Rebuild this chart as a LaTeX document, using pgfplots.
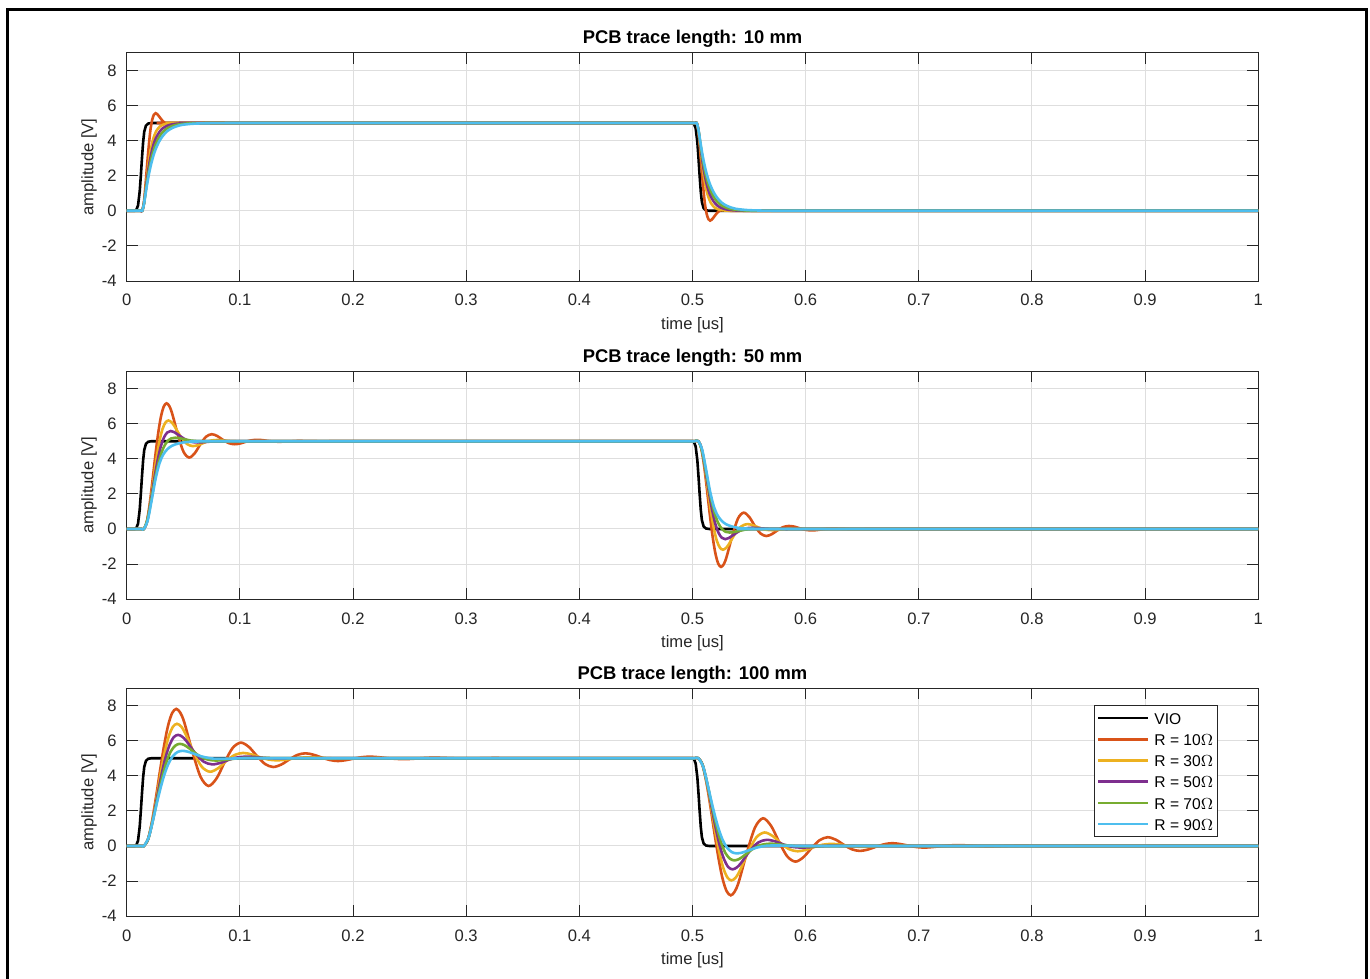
\documentclass[border=0pt]{standalone}
\usepackage{fontspec}
\setmainfont{Liberation Sans}
\usepackage{pgfplots}
\usepackage{pgfplotstable}
\pgfplotsset{compat=1.18}

\definecolor{mlorange}{rgb}{0.850,0.325,0.098}
\definecolor{mlyellow}{rgb}{0.929,0.694,0.125}
\definecolor{mlpurple}{rgb}{0.494,0.184,0.556}
\definecolor{mlgreen}{rgb}{0.466,0.674,0.188}
\definecolor{mlblue}{rgb}{0.301,0.745,0.933}
\definecolor{axgray}{rgb}{0.15,0.15,0.15}

% input voltage, same in all three panels
\pgfplotstableread{
t v
0 0
0.0070 0
0.0085 0.05
0.0100 0.30
0.0115 1.10
0.0125 2.00
0.0135 3.00
0.0145 3.90
0.0155 4.50
0.0170 4.85
0.0190 4.97
0.0220 5.00
0.5000 5.00
0.5013 4.95
0.5028 4.70
0.5043 3.90
0.5053 3.00
0.5063 2.00
0.5073 1.10
0.5083 0.50
0.5098 0.15
0.5118 0.03
0.5148 0.00
1.0000 0.00
}\vio

\pgfplotsset{
  pcb/.style={
    scale only axis, width=565.8pt, height=114.1pt,
    xmin=0, xmax=1, ymin=-4, ymax=9,
    xtick={0,0.1,0.2,0.3,0.4,0.5,0.6,0.7,0.8,0.9,1},
    xticklabels={0,0.1,0.2,0.3,0.4,0.5,0.6,0.7,0.8,0.9,1},
    ytick={-4,-2,0,2,4,6,8},
    grid=major, major grid style={line width=0.5pt, color=black!13},
    tick align=inside, major tick length=5.6pt,
    axis line style={axgray, line width=0.5pt},
    every tick/.style={axgray, line width=0.5pt},
    /pgf/number format/assume math mode=true,
    tick label style={font=\fontsize{8.3}{10}\selectfont, text=axgray},
    xticklabel style={inner sep=0pt, anchor=north, yshift=-6.5pt},
    yticklabel style={inner sep=0pt, anchor=east, xshift=-4.85pt},
    xlabel={time [us]}, ylabel={amplitude [V]},
    every axis x label/.style={at={([yshift=-24pt]axis description cs:0.5,0)}, anchor=base, inner sep=0pt,
      font=\fontsize{8.3}{10}\selectfont, text=axgray},
    every axis y label/.style={at={([xshift=-18.85pt]axis description cs:0,0.5)}, rotate=90, anchor=center, inner sep=0pt,
      font=\fontsize{8.3}{10}\selectfont, text=axgray},
    every axis title/.style={at={([yshift=4.5pt]axis description cs:0.5,1)}, anchor=base, inner sep=0pt,
      font=\bfseries\fontsize{9.2}{11}\selectfont},
    every axis plot/.append style={line width=1.3pt},
    legend image code/.code={\draw[#1] (0pt,0pt) -- (25pt,0pt);},
  }
}

\begin{document}
\begin{tikzpicture}
\useasboundingbox (0,0) rectangle (685pt,-489.5pt);
\draw[line width=1.5pt] (3.5pt,-490pt) -- (3.5pt,-5pt) -- (683pt,-5pt) -- (683pt,-490pt);

% ---------------- 10 mm ----------------
\begin{axis}[pcb, at={(63.35pt,-140.5pt)}, anchor=south west, title={PCB trace length: 10 mm}]
\addplot[black] table {\vio};
\addplot[mlorange, smooth] coordinates {
(0,0) (0.0107,0) (0.0122,0) (0.0137,0) (0.0152,0.47) (0.0167,1.53) (0.0182,2.74) (0.0197,3.83)
(0.0211,4.67) (0.0226,5.20) (0.0241,5.48) (0.0256,5.56) (0.0271,5.50) (0.0286,5.38) (0.0316,5.13)
(0.0345,4.98) (0.0375,4.94) (0.0405,4.96) (0.0435,4.99) (0.05,5) (0.40,5) (0.48,5) (0.4977,5) (0.5007,5) (0.5022,5)
(0.5037,5) (0.5052,4.53) (0.5067,3.47) (0.5082,2.26) (0.5097,1.17) (0.5111,0.33) (0.5126,-0.20)
(0.5141,-0.48) (0.5156,-0.56) (0.5171,-0.50) (0.5186,-0.38) (0.5216,-0.13) (0.5245,0.02) (0.5275,0.06)
(0.5305,0.04) (0.5335,0.01) (0.54,0) (0.60,0) (1,0)};
\addplot[mlyellow, smooth] coordinates {
(0,0) (0.0107,0) (0.0122,0) (0.0137,0) (0.0153,0.45) (0.0168,1.32) (0.0184,2.21) (0.0199,2.97)
(0.0215,3.56) (0.0230,4.00) (0.0246,4.32) (0.0261,4.54) (0.0292,4.80) (0.0323,4.91) (0.0354,4.96)
(0.0385,4.985) (0.0448,5.00) (0.06,5) (0.40,5) (0.48,5) (0.4977,5) (0.5007,5) (0.5022,5)
(0.5037,5) (0.5053,4.55) (0.5068,3.68) (0.5084,2.79) (0.5099,2.03) (0.5115,1.44) (0.5130,1.00)
(0.5146,0.68) (0.5161,0.46) (0.5192,0.20) (0.5223,0.09) (0.5254,0.04) (0.5285,0.015) (0.5348,0)
(0.55,0) (0.60,0) (1,0)};
\addplot[mlpurple, smooth] coordinates {
(0,0) (0.0107,0) (0.0122,0) (0.0137,0) (0.0152,0.40) (0.0167,1.15) (0.0182,1.91) (0.0197,2.57)
(0.0217,3.25) (0.0237,3.76) (0.0257,4.12) (0.0287,4.47) (0.0317,4.69) (0.0357,4.84) (0.0407,4.93)
(0.0477,4.98) (0.0587,5.00) (0.07,5) (0.40,5) (0.48,5) (0.4977,5) (0.5007,5) (0.5022,5)
(0.5037,5) (0.5052,4.60) (0.5067,3.85) (0.5082,3.09) (0.5097,2.43) (0.5117,1.75) (0.5137,1.24)
(0.5157,0.88) (0.5187,0.53) (0.5217,0.31) (0.5257,0.16) (0.5307,0.07) (0.5377,0.02) (0.5487,0)
(0.56,0) (0.62,0) (1,0)};
\addplot[mlgreen, smooth] coordinates {
(0,0) (0.0107,0) (0.0122,0) (0.0137,0) (0.0152,0.38) (0.0167,1.06) (0.0182,1.73) (0.0197,2.31)
(0.0217,2.95) (0.0237,3.43) (0.0257,3.80) (0.0287,4.20) (0.0317,4.47) (0.0357,4.69) (0.0407,4.84)
(0.0477,4.94) (0.0587,4.99) (0.0737,5.00) (0.10,5) (0.40,5) (0.48,5) (0.4977,5) (0.5007,5) (0.5022,5)
(0.5037,5) (0.5052,4.62) (0.5067,3.94) (0.5082,3.27) (0.5097,2.69) (0.5117,2.05) (0.5137,1.57)
(0.5157,1.20) (0.5187,0.80) (0.5217,0.53) (0.5257,0.31) (0.5307,0.16) (0.5377,0.06) (0.5487,0.01)
(0.5637,0) (0.60,0) (1,0)};
\addplot[mlblue, smooth] coordinates {
(0,0) (0.0107,0) (0.0122,0) (0.0137,0) (0.0152,0.36) (0.0167,0.98) (0.0182,1.58) (0.0197,2.11)
(0.0217,2.69) (0.0237,3.16) (0.0257,3.53) (0.0287,3.95) (0.0317,4.25) (0.0357,4.53) (0.0407,4.73)
(0.0477,4.88) (0.0587,4.96) (0.0737,4.99) (0.0937,5.00) (0.13,5) (0.40,5) (0.48,5) (0.4977,5) (0.5007,5) (0.5022,5)
(0.5037,5) (0.5052,4.64) (0.5067,4.02) (0.5082,3.42) (0.5097,2.89) (0.5117,2.31) (0.5137,1.84)
(0.5157,1.47) (0.5187,1.05) (0.5217,0.75) (0.5257,0.47) (0.5307,0.27) (0.5377,0.12) (0.5487,0.04)
(0.5637,0.01) (0.5837,0) (0.62,0) (1,0)};
\end{axis}

% ---------------- 50 mm ----------------
\begin{axis}[pcb, at={(63.35pt,-299.6pt)}, anchor=south west, title={PCB trace length: 50 mm}]
\addplot[black] table {\vio};
\addplot[mlorange, smooth] coordinates {
(0,0) (0.0115,0) (0.0133,0) (0.0152,0) (0.0177,0.38) (0.0202,1.37) (0.0227,2.70) (0.0252,4.12)
(0.0277,5.40) (0.0302,6.38) (0.0327,6.97) (0.0352,7.16) (0.0377,7.00) (0.0402,6.57) (0.0452,5.38)
(0.0502,4.40) (0.0552,4.07) (0.0602,4.32) (0.0652,4.84) (0.0702,5.26) (0.0752,5.40) (0.0802,5.29)
(0.0852,5.07) (0.0902,4.89) (0.0952,4.83) (0.1002,4.87) (0.1052,4.97) (0.1102,5.05) (0.1152,5.08)
(0.1202,5.06) (0.1252,5.01) (0.1302,4.98) (0.1352,4.97) (0.1402,4.98) (0.1452,4.99) (0.1502,5.01)
(0.1552,5.01) (0.1652,5.00) (0.1752,4.99) (0.20,5) (0.40,5) (0.48,5) (0.4980,5) (0.5016,5)
(0.5052,5) (0.5077,4.62) (0.5102,3.63) (0.5127,2.30) (0.5152,0.88) (0.5177,-0.40) (0.5202,-1.38)
(0.5227,-1.97) (0.5252,-2.16) (0.5277,-2.00) (0.5302,-1.57) (0.5352,-0.38) (0.5402,0.60) (0.5452,0.93)
(0.5502,0.68) (0.5552,0.16) (0.5602,-0.26) (0.5652,-0.40) (0.5702,-0.29) (0.5752,-0.07) (0.5802,0.11)
(0.5852,0.17) (0.5902,0.13) (0.5952,0.03) (0.6002,-0.05) (0.6052,-0.08) (0.6102,-0.06) (0.6152,-0.01)
(0.6202,0.02) (0.6252,0.03) (0.6302,0.02) (0.6352,0.01) (0.6402,-0.01) (0.6452,-0.01) (0.6552,0)
(0.6652,0.01) (0.70,0) (1,0)};
\addplot[mlyellow, smooth] coordinates {
(0,0) (0.0115,0) (0.0133,0) (0.0152,0) (0.0179,0.41) (0.0206,1.40) (0.0233,2.65) (0.0260,3.88)
(0.0287,4.91) (0.0314,5.65) (0.0342,6.06) (0.0369,6.18) (0.0396,6.08) (0.0423,5.85) (0.0477,5.26)
(0.0531,4.85) (0.0585,4.72) (0.0639,4.80) (0.0694,4.94) (0.0748,5.04) (0.0802,5.07) (0.0856,5.05)
(0.0910,5.01) (0.1019,4.99) (0.1235,5.00) (0.15,5) (0.40,5) (0.48,5) (0.4980,5) (0.5016,5)
(0.5052,5) (0.5079,4.59) (0.5106,3.60) (0.5133,2.35) (0.5160,1.12) (0.5187,0.09) (0.5214,-0.65)
(0.5242,-1.06) (0.5269,-1.18) (0.5296,-1.08) (0.5323,-0.85) (0.5377,-0.26) (0.5431,0.15) (0.5485,0.28)
(0.5539,0.20) (0.5594,0.06) (0.5648,-0.04) (0.5702,-0.07) (0.5756,-0.05) (0.5810,-0.01) (0.5919,0.01)
(0.6135,0) (0.65,0) (1,0)};
\addplot[mlpurple, smooth] coordinates {
(0,0) (0.0115,0) (0.0133,0) (0.0152,0) (0.0182,0.47) (0.0211,1.52) (0.0241,2.74) (0.0271,3.83)
(0.0300,4.67) (0.0330,5.22) (0.0359,5.50) (0.0389,5.58) (0.0419,5.52) (0.0448,5.40) (0.0508,5.14)
(0.0567,4.97) (0.0626,4.93) (0.0686,4.95) (0.0745,4.98) (0.0863,5.01) (0.11,5) (0.40,5) (0.48,5)
(0.4980,5) (0.5016,5)
(0.5052,5) (0.5082,4.53) (0.5111,3.48) (0.5141,2.26) (0.5171,1.17) (0.5200,0.33) (0.5230,-0.22)
(0.5259,-0.50) (0.5289,-0.58) (0.5319,-0.52) (0.5348,-0.40) (0.5408,-0.14) (0.5467,0.03) (0.5526,0.07)
(0.5586,0.05) (0.5645,0.02) (0.5763,-0.01) (0.60,0) (1,0)};
\addplot[mlgreen, smooth] coordinates {
(0,0) (0.0115,0) (0.0133,0) (0.0152,0) (0.0186,0.60) (0.0221,1.80) (0.0255,3.01) (0.0290,3.98)
(0.0324,4.62) (0.0359,4.99) (0.0393,5.16) (0.0428,5.20) (0.0462,5.18) (0.0497,5.13) (0.0565,5.04)
(0.0634,5.00) (0.0703,4.99) (0.09,5) (0.40,5) (0.48,5) (0.4980,5) (0.5016,5)
(0.5052,5) (0.5086,4.40) (0.5121,3.20) (0.5155,1.99) (0.5190,1.02) (0.5224,0.38) (0.5259,0.01)
(0.5293,-0.16) (0.5328,-0.20) (0.5362,-0.18) (0.5397,-0.13) (0.5465,-0.04) (0.5534,0) (0.5603,0.01)
(0.58,0) (1,0)};
\addplot[mlblue, smooth] coordinates {
(0,0) (0.0115,0) (0.0133,0) (0.0152,0) (0.0186,0.50) (0.0221,1.65) (0.0255,2.85) (0.0290,3.75)
(0.0324,4.25) (0.0360,4.55) (0.0400,4.74) (0.0450,4.86) (0.0500,4.93) (0.0570,4.97) (0.0650,4.99)
(0.08,5) (0.40,5) (0.48,5) (0.4980,5) (0.5016,5)
(0.5052,5) (0.5086,4.50) (0.5121,3.35) (0.5155,2.15) (0.5190,1.25) (0.5224,0.75) (0.5260,0.45)
(0.5300,0.26) (0.5350,0.14) (0.5400,0.07) (0.5470,0.03) (0.5550,0.01) (0.57,0) (1,0)};
\end{axis}

% ---------------- 100 mm ----------------
\begin{axis}[pcb, at={(63.35pt,-458.1pt)}, anchor=south west, title={PCB trace length: 100 mm},
  legend style={at={(0.9644,0.9255)}, anchor=north east, draw=axgray, line width=0.5pt, fill=white,
    font=\fontsize{7.8}{9.5}\selectfont, inner xsep=1.2pt, inner ysep=1pt, row sep=0pt,
    /tikz/every odd column/.append style={column sep=1.5pt},
    nodes={inner xsep=1pt, inner ysep=2.2pt, text height=6.2pt, text depth=0pt}},
  legend cell align=left]
\addplot[black] table {\vio};
\addlegendentry{VIO}
\addplot[mlorange, smooth] coordinates {
(0,0) (0.0115,0) (0.0133,0) (0.0152,0) (0.0188,0.38) (0.0223,1.38) (0.0259,2.78) (0.0295,4.31)
(0.0331,5.74) (0.0366,6.87) (0.0402,7.58) (0.0438,7.81) (0.0473,7.60) (0.0509,7.04) (0.0580,5.39)
(0.0652,3.95) (0.0723,3.42) (0.0795,3.86) (0.0866,4.78) (0.0937,5.59) (0.1009,5.89) (0.1080,5.64)
(0.1152,5.12) (0.1223,4.67) (0.1294,4.50) (0.1366,4.64) (0.1437,4.93) (0.1509,5.19) (0.1580,5.28)
(0.1651,5.20) (0.1723,5.04) (0.1794,4.90) (0.1866,4.84) (0.1937,4.89) (0.2008,4.98) (0.2080,5.06)
(0.2151,5.09) (0.2223,5.06) (0.2294,5.01) (0.2365,4.97) (0.2437,4.95) (0.2508,4.96) (0.2580,4.99)
(0.2651,5.02) (0.2722,5.03) (0.2794,5.02) (0.2865,5.00) (0.2937,4.99) (0.3008,4.98) (0.3080,4.99)
(0.3151,5.00) (0.3222,5.01) (0.3294,5.01) (0.36,5) (0.40,5) (0.48,5) (0.4980,5) (0.5016,5)
(0.5052,5) (0.5088,4.62) (0.5123,3.62) (0.5159,2.22) (0.5195,0.69) (0.5231,-0.74) (0.5266,-1.87)
(0.5302,-2.58) (0.5338,-2.81) (0.5373,-2.60) (0.5409,-2.04) (0.5480,-0.39) (0.5552,1.05) (0.5623,1.58)
(0.5695,1.14) (0.5766,0.22) (0.5837,-0.59) (0.5909,-0.89) (0.5980,-0.64) (0.6052,-0.12) (0.6123,0.33)
(0.6194,0.50) (0.6266,0.36) (0.6337,0.07) (0.6409,-0.19) (0.6480,-0.28) (0.6551,-0.20) (0.6623,-0.04)
(0.6694,0.10) (0.6766,0.16) (0.6837,0.11) (0.6908,0.02) (0.6980,-0.06) (0.7051,-0.09) (0.7123,-0.06)
(0.7194,-0.01) (0.7265,0.03) (0.7337,0.05) (0.7408,0.04) (0.7480,0.01) (0.7551,-0.02) (0.7622,-0.03)
(0.7694,-0.02) (0.7765,0) (0.7837,0.01) (0.7908,0.02) (0.7980,0.01) (0.8051,0) (0.8122,-0.01)
(0.8194,-0.01) (0.85,0) (0.90,0) (1,0)};
\addlegendentry{R = 10$\Omega$}
\addplot[mlyellow, smooth] coordinates {
(0,0) (0.0115,0) (0.0133,0) (0.0152,0) (0.0189,0.38) (0.0225,1.37) (0.0262,2.68) (0.0298,4.07)
(0.0335,5.30) (0.0371,6.23) (0.0408,6.79) (0.0444,6.96) (0.0481,6.81) (0.0517,6.42) (0.0590,5.37)
(0.0663,4.52) (0.0736,4.23) (0.0810,4.44) (0.0883,4.86) (0.0956,5.19) (0.1029,5.30) (0.1102,5.22)
(0.1175,5.06) (0.1248,4.93) (0.1321,4.88) (0.1394,4.91) (0.1467,4.98) (0.1540,5.03) (0.1613,5.05)
(0.1759,5.01) (0.1905,4.98) (0.2198,5.01) (0.25,5) (0.40,5) (0.48,5) (0.4980,5) (0.5016,5)
(0.5052,5) (0.5089,4.62) (0.5125,3.63) (0.5162,2.32) (0.5198,0.93) (0.5235,-0.30) (0.5271,-1.23)
(0.5308,-1.79) (0.5344,-1.96) (0.5381,-1.81) (0.5417,-1.42) (0.5490,-0.37) (0.5563,0.48) (0.5636,0.77)
(0.5710,0.56) (0.5783,0.14) (0.5856,-0.19) (0.5929,-0.30) (0.6002,-0.22) (0.6075,-0.06) (0.6148,0.07)
(0.6221,0.12) (0.6294,0.09) (0.6367,0.02) (0.6440,-0.03) (0.6513,-0.05) (0.6659,-0.01) (0.6805,0.02)
(0.7098,-0.01) (0.74,0) (1,0)};
\addlegendentry{R = 30$\Omega$}
\addplot[mlpurple, smooth] coordinates {
(0,0) (0.0115,0) (0.0133,0) (0.0152,0) (0.0190,0.40) (0.0228,1.39) (0.0265,2.65) (0.0303,3.91)
(0.0341,4.99) (0.0379,5.76) (0.0416,6.20) (0.0454,6.33) (0.0492,6.22) (0.0530,5.96) (0.0605,5.29)
(0.0681,4.80) (0.0756,4.65) (0.0832,4.74) (0.0907,4.92) (0.0983,5.05) (0.1058,5.09) (0.1134,5.07)
(0.1209,5.02) (0.1285,4.99) (0.1360,4.98) (0.1511,5.00) (0.1662,5.01) (0.20,5) (0.40,5) (0.48,5)
(0.4980,5) (0.5016,5)
(0.5052,5) (0.5090,4.60) (0.5128,3.61) (0.5165,2.35) (0.5203,1.09) (0.5241,0.01) (0.5279,-0.76)
(0.5316,-1.20) (0.5354,-1.33) (0.5392,-1.22) (0.5430,-0.96) (0.5505,-0.29) (0.5581,0.20) (0.5656,0.35)
(0.5732,0.26) (0.5807,0.08) (0.5883,-0.05) (0.5958,-0.09) (0.6034,-0.07) (0.6109,-0.02) (0.6185,0.01)
(0.6260,0.02) (0.6411,0) (0.6562,-0.01) (0.70,0) (1,0)};
\addlegendentry{R = 50$\Omega$}
\addplot[mlgreen, smooth] coordinates {
(0,0) (0.0115,0) (0.0133,0) (0.0152,0) (0.0192,0.44) (0.0231,1.46) (0.0271,2.68) (0.0311,3.84)
(0.0350,4.76) (0.0390,5.39) (0.0430,5.72) (0.0469,5.82) (0.0509,5.75) (0.0549,5.58) (0.0628,5.19)
(0.0707,4.94) (0.0787,4.87) (0.0866,4.91) (0.0945,4.97) (0.1025,5.01) (0.1104,5.02) (0.1263,5.01)
(0.16,5) (0.40,5) (0.48,5) (0.4980,5) (0.5016,5)
(0.5052,5) (0.5092,4.56) (0.5131,3.54) (0.5171,2.32) (0.5211,1.16) (0.5250,0.24) (0.5290,-0.39)
(0.5330,-0.72) (0.5369,-0.82) (0.5409,-0.75) (0.5449,-0.58) (0.5528,-0.19) (0.5607,0.06) (0.5687,0.13)
(0.5766,0.09) (0.5845,0.03) (0.5925,-0.01) (0.6004,-0.02) (0.6163,-0.01) (0.65,0) (1,0)};
\addlegendentry{R = 70$\Omega$}
\addplot[mlblue, smooth] coordinates {
(0,0) (0.0115,0) (0.0133,0) (0.0152,0) (0.0195,0.50) (0.0237,1.60) (0.0280,2.81) (0.0323,3.86)
(0.0365,4.63) (0.0408,5.12) (0.0451,5.36) (0.0493,5.42) (0.0536,5.38) (0.0579,5.29) (0.0664,5.10)
(0.0749,4.99) (0.0835,4.97) (0.0920,4.98) (0.1006,4.99) (0.13,5) (0.40,5) (0.48,5) (0.4980,5) (0.5016,5)
(0.5052,5) (0.5095,4.50) (0.5137,3.40) (0.5180,2.19) (0.5223,1.14) (0.5265,0.37) (0.5308,-0.12)
(0.5351,-0.36) (0.5393,-0.42) (0.5436,-0.38) (0.5479,-0.29) (0.5564,-0.10) (0.5649,0.01) (0.5735,0.03)
(0.5820,0.02) (0.5906,0.01) (0.62,0) (1,0)};
\addlegendentry{R = 90$\Omega$}
\end{axis}
\end{tikzpicture}
\end{document}
